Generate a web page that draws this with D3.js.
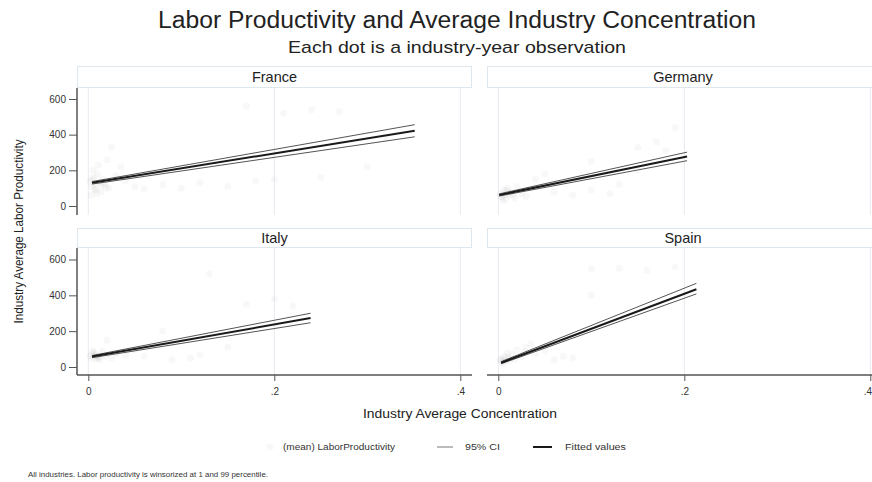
<!DOCTYPE html>
<html>
<head>
<meta charset="utf-8">
<script src="https://cdn.jsdelivr.net/npm/d3@7"></script>
<style>
  html, body { margin: 0; padding: 0; background: #fff; }
  svg { display: block; font-family: "Liberation Sans", Arial, Helvetica, sans-serif; }
</style>
</head>
<body>
<svg id="chart" width="872" height="482"></svg>
<script>
// Panels, in reading order
const countries = ["France", "Germany", "Italy", "Spain"];

// Linear fit per country: x-range of the fitted line and fitted values at its ends
const fitX0 = [0.004, 0.001, 0.004, 0.003];
const fitX1 = [0.351, 0.203, 0.239, 0.213];
const fitY0 = [130, 62, 58, 24];
const fitY1 = [422, 278, 273, 434];
// 95% confidence bounds at the two ends
const ciLo0 = [123, 56, 52, 18];
const ciHi0 = [137, 68, 64, 30];
const ciLo1 = [388, 254, 247, 408];
const ciHi1 = [456, 302, 300, 467];

// Industry-year observations: concentration (x) and mean labor productivity (y)
const franceX = [0.002, 0.004, 0.006, 0.008, 0.010, 0.012, 0.005, 0.015, 0.018, 0.020, 0.025, 0.030, 0.014, 0.022, 0.035, 0.040, 0.050, 0.060, 0.080, 0.100, 0.120, 0.150, 0.180, 0.200, 0.210, 0.240, 0.270, 0.250, 0.300, 0.320, 0.170, 0.003, 0.009, 0.011, 0.006, 0.013, 0.016, 0.007, 0.019, 0.004];
const franceY = [140, 110, 160, 90, 180, 130, 200, 150, 120, 260, 330, 170, 80, 100, 220, 140, 110, 95, 120, 100, 130, 110, 140, 150, 520, 540, 530, 160, 220, 380, 560, 60, 70, 230, 125, 115, 135, 95, 105, 150];
const germanyX = [0.002, 0.004, 0.006, 0.008, 0.010, 0.012, 0.015, 0.018, 0.020, 0.025, 0.030, 0.005, 0.050, 0.100, 0.150, 0.170, 0.190, 0.100, 0.120, 0.080, 0.150, 0.060, 0.040, 0.180, 0.130, 0.007, 0.011, 0.003, 0.016, 0.009];
const germanyY = [70, 50, 90, 40, 100, 60, 80, 45, 110, 70, 55, 30, 180, 250, 330, 360, 440, 90, 70, 60, 200, 80, 150, 310, 120, 65, 75, 55, 60, 85];
const italyX = [0.002, 0.004, 0.006, 0.008, 0.010, 0.012, 0.015, 0.018, 0.020, 0.025, 0.030, 0.040, 0.130, 0.170, 0.200, 0.220, 0.120, 0.150, 0.090, 0.060, 0.050, 0.005, 0.080, 0.110, 0.007, 0.003, 0.011, 0.009];
const italyY = [60, 45, 80, 70, 55, 40, 90, 60, 150, 50, 75, 65, 520, 350, 380, 340, 70, 110, 40, 60, 95, 90, 200, 50, 62, 70, 58, 48];
const spainX = [0.002, 0.004, 0.006, 0.008, 0.010, 0.012, 0.015, 0.018, 0.020, 0.025, 0.030, 0.050, 0.070, 0.100, 0.130, 0.160, 0.190, 0.100, 0.080, 0.040, 0.060, 0.005, 0.035, 0.003, 0.007, 0.011, 0.028];
const spainY = [40, 30, 60, 50, 80, 35, 70, 45, 95, 55, 110, 90, 60, 550, 550, 540, 560, 400, 50, 75, 40, 20, 130, 45, 35, 55, 85];
const obsX = [franceX, germanyX, italyX, spainX];
const obsY = [franceY, germanyY, italyY, spainY];

// Axis ticks
const xTicks = [0, 0.2, 0.4];
const xTickLabels = ["0", ".2", ".4"];
const yTicks = [0, 200, 400, 600];

const svg = d3.select("#chart");

// Panel geometry: columns and rows
const cols = [
  { left: 77, right: 472, x0: 88.3, x1: 460.3, labelX: 274.5 },
  { left: 487, right: 884, x0: 498.3, x1: 870.3, labelX: 683 }
];
const rows = [
  { headTop: 66, headBot: 88, bottom: 215, y0: 206, y600: 99 },
  { headTop: 228, headBot: 248, bottom: 375, y0: 367, y600: 259.5 }
];

const ink = "#222";
const axisCol = "#555";
const gridCol = "#e6ecf2";
const stripStroke = "#dfe7ee";

countries.forEach((name, i) => {
  const c = cols[i % 2], r = rows[Math.floor(i / 2)];
  const x = d3.scaleLinear().domain([0, 0.4]).range([c.x0, c.x1]);
  const y = d3.scaleLinear().domain([0, 600]).range([r.y0, r.y600]);
  const g = svg.append("g");

  // header strip
  g.append("rect")
    .attr("x", c.left + 0.5).attr("y", r.headTop + 0.5)
    .attr("width", c.right - c.left - 1).attr("height", r.headBot - r.headTop - 1)
    .attr("fill", "#fff").attr("stroke", stripStroke).attr("stroke-width", 1);
  g.append("text")
    .attr("x", c.labelX)
    .attr("y", (r.headTop + r.headBot) / 2 + 5)
    .attr("text-anchor", "middle").attr("font-size", 14.5).attr("fill", ink)
    .text(name);

  // vertical grid lines
  g.append("g").selectAll("line").data(xTicks).join("line")
    .attr("x1", d => x(d)).attr("x2", d => x(d))
    .attr("y1", r.headBot).attr("y2", r.bottom)
    .attr("stroke", gridCol).attr("stroke-width", 1);

  // observations
  const pts = obsX[i].map((v, k) => [v, obsY[i][k]]);
  g.append("g").selectAll("circle").data(pts).join("circle")
    .attr("cx", d => x(d[0])).attr("cy", d => y(d[1]))
    .attr("r", 3.5).attr("fill", "#888").attr("fill-opacity", 0.055);

  // confidence bounds
  const ciLines = [
    [[fitX0[i], ciLo0[i]], [fitX1[i], ciLo1[i]]],
    [[fitX0[i], ciHi0[i]], [fitX1[i], ciHi1[i]]]
  ];
  const line = d3.line().x(d => x(d[0])).y(d => y(d[1]));
  g.append("g").selectAll("path").data(ciLines).join("path")
    .attr("d", line).attr("fill", "none")
    .attr("stroke", "#555").attr("stroke-width", 1);

  // fitted values
  g.append("path")
    .attr("d", line([[fitX0[i], fitY0[i]], [fitX1[i], fitY1[i]]]))
    .attr("fill", "none").attr("stroke", "#1a1a1a").attr("stroke-width", 2);

  // y axis on the left column
  if (i % 2 === 0) {
    const ya = d3.axisLeft(y).tickValues(yTicks).tickSize(8).tickPadding(3);
    const ag = g.append("g").attr("transform", `translate(${c.left},0)`).call(ya);
    ag.select(".domain").attr("d", `M0,${r.headBot}V${r.bottom}`)
      .attr("stroke", axisCol).attr("stroke-width", 1.5);
    ag.selectAll(".tick line").attr("stroke", axisCol);
    ag.selectAll(".tick text").attr("font-size", 10).attr("fill", "#333")
      .attr("font-family", "'Liberation Sans', Arial, sans-serif");
  }

  // x axis on the bottom row
  if (r === rows[1]) {
    const xa = d3.axisBottom(x).tickValues(xTicks).tickSize(6).tickPadding(7)
      .tickFormat((d, k) => xTickLabels[k]);
    const ag = g.append("g").attr("transform", `translate(0,${r.bottom})`).call(xa);
    ag.select(".domain").attr("d", `M${c.left},0H${c.right}`)
      .attr("stroke", axisCol).attr("stroke-width", 1.5);
    ag.selectAll(".tick line").attr("stroke", axisCol);
    ag.selectAll(".tick text").attr("font-size", 10).attr("fill", "#333")
      .attr("font-family", "'Liberation Sans', Arial, sans-serif")
      // keep the right-most label inside the page edge
      .attr("dx", d => (x(d) > 866 ? -3 : 0));
  }
});

// titles
svg.append("text").attr("x", 457).attr("y", 28).attr("text-anchor", "middle")
  .attr("font-size", 23).attr("fill", ink)
  .attr("textLength", 598).attr("lengthAdjust", "spacingAndGlyphs")
  .text("Labor Productivity and Average Industry Concentration");
svg.append("text").attr("x", 457).attr("y", 53).attr("text-anchor", "middle")
  .attr("font-size", 17).attr("fill", ink)
  .attr("textLength", 338).attr("lengthAdjust", "spacingAndGlyphs")
  .text("Each dot is a industry-year observation");

// axis titles
svg.append("text").attr("transform", "translate(23,231.5) rotate(-90)")
  .attr("text-anchor", "middle").attr("font-size", 12.5).attr("fill", ink)
  .attr("textLength", 184).attr("lengthAdjust", "spacingAndGlyphs")
  .text("Industry Average Labor Productivity");
svg.append("text").attr("x", 460).attr("y", 418).attr("text-anchor", "middle")
  .attr("font-size", 12.5).attr("fill", ink)
  .attr("textLength", 194).attr("lengthAdjust", "spacingAndGlyphs")
  .text("Industry Average Concentration");

// legend
const leg = svg.append("g").attr("font-size", 8.5).attr("fill", "#333");
leg.append("circle").attr("cx", 270).attr("cy", 447).attr("r", 3.5)
  .attr("fill", "#888").attr("fill-opacity", 0.055);
leg.append("text").attr("x", 283).attr("y", 450)
  .attr("textLength", 112).attr("lengthAdjust", "spacingAndGlyphs")
  .text("(mean) LaborProductivity");
leg.append("line").attr("x1", 437).attr("x2", 453).attr("y1", 447).attr("y2", 447)
  .attr("stroke", "#777").attr("stroke-width", 1);
leg.append("text").attr("x", 465).attr("y", 450)
  .attr("textLength", 35).attr("lengthAdjust", "spacingAndGlyphs")
  .text("95% CI");
leg.append("line").attr("x1", 533).attr("x2", 552).attr("y1", 447).attr("y2", 447)
  .attr("stroke", "#1a1a1a").attr("stroke-width", 2);
leg.append("text").attr("x", 565).attr("y", 450)
  .attr("textLength", 61).attr("lengthAdjust", "spacingAndGlyphs")
  .text("Fitted values");

// note
svg.append("text").attr("x", 28).attr("y", 477).attr("font-size", 7).attr("fill", "#333")
  .attr("textLength", 240).attr("lengthAdjust", "spacingAndGlyphs")
  .text("All industries. Labor productivity is winsorized at 1 and 99 percentile.");
</script>
</body>
</html>
